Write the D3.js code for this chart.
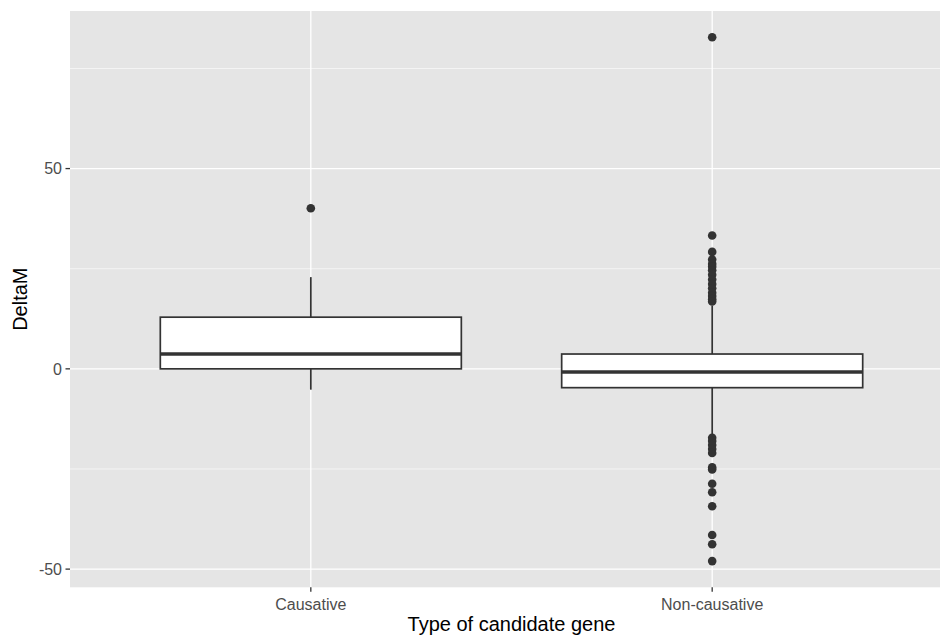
<!DOCTYPE html>
<html>
<head>
<meta charset="utf-8">
<script src="https://cdn.jsdelivr.net/npm/d3@7"></script>
<style>
  html, body { margin: 0; padding: 0; background: #fff; }
  svg { display: block; font-family: "Liberation Sans", Arial, Helvetica, sans-serif; }
</style>
</head>
<body>
<svg id="chart" width="940" height="637"></svg>
<script>
// ---- Data ----
const categories = ["Causative", "Non-causative"];
const q1 = [0.0, -4.7];
const median = [3.7, -0.8];
const q3 = [12.9, 3.7];
const whiskerLow = [-5.2, -16.5];
const whiskerHigh = [22.9, 15.8];
const outliersCausative = [40.1];
const outliersNonCausative = [
  82.8, 33.3, 29.2, 27.3, 26.2, 25.5, 24.6, 23.5, 22.3, 21.2, 20.1, 19.0, 18.2, 17.4, 16.8,
  -17.2, -18.0, -19.0, -20.0, -21.0, -24.6, -25.1, -28.7, -30.8, -34.3, -41.5, -43.8, -48.0
];
const yTicks = [-50, 0, 50];
const yMinorTicks = [-25, 25, 75];
const xTitle = "Type of candidate gene";
const yTitle = "DeltaM";

// ---- Layout ----
const svg = d3.select("#chart");
const panel = { left: 70, right: 953, top: 11, bottom: 587.3 };

const outliers = [outliersCausative, outliersNonCausative];
const boxes = categories.map((c, i) => ({
  cat: c, q1: q1[i], med: median[i], q3: q3[i],
  lo: whiskerLow[i], hi: whiskerHigh[i], out: outliers[i]
}));

const allVals = boxes.flatMap(b => [b.lo, b.hi, ...b.out]);
const yMin = d3.min(allVals), yMax = d3.max(allVals);
const pad = (yMax - yMin) * 0.05;
const y = d3.scaleLinear().domain([yMin - pad, yMax + pad]).range([panel.bottom, panel.top]);

// discrete scale with ggplot-like expansion (0.6 units each side)
const xPos = d3.scaleLinear().domain([1 - 0.6, categories.length + 0.6]).range([panel.left, panel.right]);
const x = c => xPos(categories.indexOf(c) + 1);
const step = xPos(2) - xPos(1);
const boxW = step * 0.75;

// Panel background
svg.append("rect")
  .attr("x", panel.left).attr("y", panel.top)
  .attr("width", panel.right - panel.left).attr("height", panel.bottom - panel.top)
  .attr("fill", "#E5E5E5");

// Grid
const grid = svg.append("g");
grid.selectAll("line.minor").data(yMinorTicks).join("line")
  .attr("x1", panel.left).attr("x2", panel.right)
  .attr("y1", d => y(d)).attr("y2", d => y(d))
  .attr("stroke", "#fff").attr("stroke-width", 0.6);
grid.selectAll("line.majory").data(yTicks).join("line")
  .attr("x1", panel.left).attr("x2", panel.right)
  .attr("y1", d => y(d)).attr("y2", d => y(d))
  .attr("stroke", "#fff").attr("stroke-width", 1.3);
grid.selectAll("line.majorx").data(categories).join("line")
  .attr("y1", panel.top).attr("y2", panel.bottom)
  .attr("x1", d => x(d)).attr("x2", d => x(d))
  .attr("stroke", "#fff").attr("stroke-width", 1.3);

// Boxplots
const g = svg.append("g");
const bx = g.selectAll("g.box").data(boxes).join("g");
bx.append("line")
  .attr("x1", d => x(d.cat)).attr("x2", d => x(d.cat))
  .attr("y1", d => y(d.hi)).attr("y2", d => y(d.q3))
  .attr("stroke", "#333333").attr("stroke-width", 1.7);
bx.append("line")
  .attr("x1", d => x(d.cat)).attr("x2", d => x(d.cat))
  .attr("y1", d => y(d.q1)).attr("y2", d => y(d.lo))
  .attr("stroke", "#333333").attr("stroke-width", 1.7);
bx.append("rect")
  .attr("x", d => x(d.cat) - boxW / 2).attr("width", boxW)
  .attr("y", d => y(d.q3)).attr("height", d => y(d.q1) - y(d.q3))
  .attr("fill", "#fff").attr("stroke", "#333333").attr("stroke-width", 1.7);
bx.append("line")
  .attr("x1", d => x(d.cat) - boxW / 2).attr("x2", d => x(d.cat) + boxW / 2)
  .attr("y1", d => y(d.med)).attr("y2", d => y(d.med))
  .attr("stroke", "#333333").attr("stroke-width", 3.6);
bx.selectAll("circle").data(d => d.out.map(v => ({ cat: d.cat, v }))).join("circle")
  .attr("cx", d => x(d.cat)).attr("cy", d => y(d.v)).attr("r", 4.3)
  .attr("fill", "#333333");

// Y axis
const yAxis = svg.append("g");
yAxis.selectAll("line").data(yTicks).join("line")
  .attr("x1", panel.left - 4.5).attr("x2", panel.left)
  .attr("y1", d => y(d)).attr("y2", d => y(d))
  .attr("stroke", "#333333").attr("stroke-width", 1.3);
yAxis.selectAll("text").data(yTicks).join("text")
  .attr("x", panel.left - 8).attr("y", d => y(d))
  .attr("dy", "0.36em").attr("text-anchor", "end")
  .attr("font-size", 16).attr("fill", "#4D4D4D")
  .text(d => d);

// X axis
const xAxis = svg.append("g");
xAxis.selectAll("line").data(categories).join("line")
  .attr("x1", d => x(d)).attr("x2", d => x(d))
  .attr("y1", panel.bottom).attr("y2", panel.bottom + 4.5)
  .attr("stroke", "#333333").attr("stroke-width", 1.3);
xAxis.selectAll("text").data(categories).join("text")
  .attr("x", d => x(d)).attr("y", 610)
  .attr("text-anchor", "middle")
  .attr("font-size", 16).attr("fill", "#4D4D4D")
  .text(d => d);

// Titles
svg.append("text")
  .attr("x", (panel.left + panel.right) / 2).attr("y", 631)
  .attr("text-anchor", "middle").attr("font-size", 20).attr("fill", "#000")
  .text(xTitle);
svg.append("text")
  .attr("transform", `translate(27,${(panel.top + panel.bottom) / 2}) rotate(-90)`)
  .attr("text-anchor", "middle").attr("font-size", 20).attr("fill", "#000")
  .text(yTitle);
</script>
</body>
</html>
